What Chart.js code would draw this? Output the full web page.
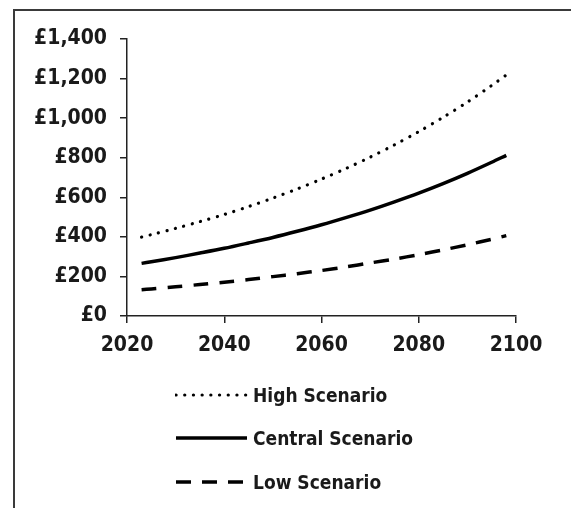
<!DOCTYPE html>
<html>
<head>
<meta charset="utf-8">
<script src="https://cdn.jsdelivr.net/npm/chart.js@4"></script>
<style>
    html, body { margin: 0; padding: 0; background: #fff; }
    #wrap { position: relative; width: 571px; height: 508px; overflow: hidden; }
    #frame {
        position: absolute; left: 13px; top: 9px; width: 600px; height: 600px;
        border-left: 2px solid #3a3a3a; border-top: 2px solid #3a3a3a;
    }
    #chart { position: absolute; left: 0; top: 0; }
    #legend {
        position: absolute; left: 175px; top: 373px;
        font-family: 'DejaVu Sans Condensed', 'DejaVu Sans', sans-serif;
        font-size: 19px; font-weight: bold; color: #1a1a1a;
    }
    .legend-item { display: flex; align-items: center; height: 43.5px; }
    .legend-item svg { margin-right: 4px; }
</style>
</head>
<body>
<div id="wrap">
    <div id="frame"></div>
    <canvas id="chart" width="571" height="508"></canvas>
    <div id="legend"></div>
</div>
<script>
// Data
const years = [2023, 2025, 2030, 2035, 2040, 2045, 2050, 2055, 2060, 2065, 2070, 2075, 2080, 2085, 2090, 2095, 2098];
const highScenario = [399, 411, 443, 477, 513, 553, 596, 642, 692, 745, 803, 865, 932, 1004, 1081, 1165, 1218];
const centralScenario = [266, 274, 295, 318, 342, 369, 397, 428, 461, 497, 535, 577, 621, 669, 721, 777, 812];
const lowScenario = [133, 137, 148, 159, 171, 184, 199, 214, 230, 248, 268, 288, 310, 334, 360, 388, 406];
const seriesLabels = ['High Scenario', 'Central Scenario', 'Low Scenario'];

const tickFont = { family: "'DejaVu Sans Condensed', 'DejaVu Sans'", size: 21, weight: 'bold' };

function toPoints(values) {
    return values.map((v, i) => ({ x: years[i], y: v }));
}

const chart = new Chart(document.getElementById('chart'), {
    type: 'line',
    data: {
        datasets: [
            {
                label: seriesLabels[0],
                data: toPoints(highScenario),
                borderColor: '#000',
                borderWidth: 3.2,
                borderDash: [0.1, 8.6],
                borderCapStyle: 'round'
            },
            {
                label: seriesLabels[1],
                data: toPoints(centralScenario),
                borderColor: '#000',
                borderWidth: 3.5,
                borderDash: []
            },
            {
                label: seriesLabels[2],
                data: toPoints(lowScenario),
                borderColor: '#000',
                borderWidth: 3.5,
                borderDash: [15, 11]
            }
        ]
    },
    options: {
        responsive: false,
        animation: false,
        elements: { point: { radius: 0 }, line: { tension: 0.3 } },
        layout: { padding: { left: 20, right: 55, top: 39, bottom: 152 } },
        plugins: {
            legend: { display: false },
            tooltip: { enabled: false }
        },
        scales: {
            x: {
                type: 'linear',
                min: 2020,
                max: 2100,
                ticks: {
                    stepSize: 20,
                    padding: 10,
                    color: '#1a1a1a',
                    font: tickFont,
                    maxRotation: 0,
                    callback: v => String(v)
                },
                grid: { drawOnChartArea: false, tickLength: 7, color: '#222', lineWidth: 1.5 },
                border: { color: '#222', width: 1.5 },
                afterFit: scale => { scale.height = 40; }
            },
            y: {
                min: 0,
                max: 1400,
                ticks: {
                    stepSize: 200,
                    padding: 13,
                    color: '#1a1a1a',
                    font: tickFont,
                    callback: v => '£' + v.toLocaleString('en-GB')
                },
                grid: { drawOnChartArea: false, tickLength: 7, color: '#222', lineWidth: 1.5 },
                border: { color: '#222', width: 1.5 },
                afterFit: scale => { scale.width = 107; }
            }
        }
    }
});

// HTML legend built from the chart's datasets
const legendEl = document.getElementById('legend');
chart.data.datasets.forEach(ds => {
    const item = document.createElement('div');
    item.className = 'legend-item';
    const cap = ds.borderCapStyle === 'round' ? 'round' : 'butt';
    item.innerHTML = `
        <svg width="74" height="10">
            <line x1="1" y1="5" x2="72" y2="5" stroke="${ds.borderColor}"
                stroke-width="${ds.borderWidth}" stroke-linecap="${cap}"
                stroke-dasharray="${ds.borderDash.length ? ds.borderDash.join(' ') : 'none'}"/>
        </svg>
        <span>${ds.label}</span>`;
    legendEl.appendChild(item);
});
</script>
</body>
</html>
